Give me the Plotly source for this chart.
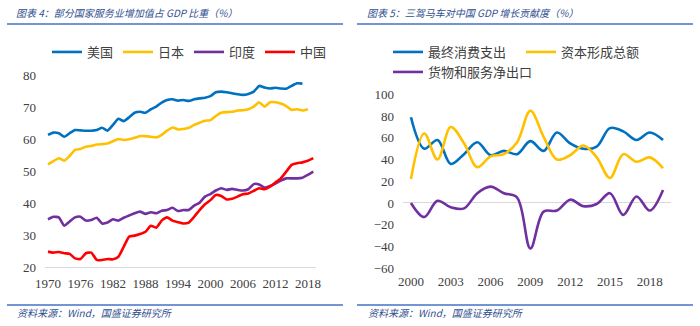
import plotly.graph_objects as go

W, H = 700, 326

# ---------- Left chart data: service-sector share of GDP (%) ----------
years_l = list(range(1970, 2020))
usa = [61.3, 62.0, 61.8, 60.7, 61.8, 62.8, 62.7, 62.6, 62.6, 62.8, 63.5, 62.6, 64.4, 66.3, 65.6,
       66.8, 68.2, 68.5, 68.2, 69.3, 70.1, 71.4, 72.2, 72.4, 72.0, 72.2, 71.9, 72.4, 72.7, 72.9,
       73.4, 74.6, 74.8, 74.6, 74.3, 74.0, 73.8, 74.1, 74.8, 76.6, 76.1, 75.8, 76.0, 75.8, 75.7,
       76.6, 77.4, 77.3]
japan = [52.1, 53.1, 54.0, 53.2, 54.7, 56.6, 56.9, 57.6, 57.8, 58.3, 58.4, 58.6, 59.3, 60.0, 59.7,
         59.9, 60.4, 60.9, 60.9, 60.7, 60.5, 61.3, 62.6, 63.6, 63.0, 63.1, 63.5, 64.4, 65.1, 65.7,
         65.9, 67.2, 68.2, 68.4, 68.5, 68.9, 69.0, 69.3, 70.1, 71.5, 70.1, 71.5, 71.5, 71.1, 70.3,
         69.1, 69.3, 68.9, 69.3]
india = [34.9, 35.7, 35.5, 32.9, 34.2, 35.5, 35.7, 34.5, 34.7, 35.4, 33.6, 33.9, 34.9, 34.5, 35.4,
         36.1, 36.8, 37.3, 36.6, 37.1, 36.8, 37.6, 37.8, 38.5, 37.5, 37.8, 37.8, 39.2, 40.1, 42.0,
         42.8, 43.9, 44.6, 44.1, 44.4, 44.1, 43.9, 44.3, 45.9, 45.8, 44.8, 45.3, 46.1, 47.0, 47.7,
         47.7, 47.7, 47.9, 48.8, 49.8]
china = [24.8, 24.5, 24.7, 24.3, 24.1, 22.7, 22.5, 24.3, 24.5, 22.2, 22.2, 22.5, 22.4, 23.2, 26.4,
         29.5, 29.8, 30.3, 31.0, 32.9, 32.3, 34.5, 35.5, 34.5, 34.0, 33.6, 33.9, 35.7, 37.8, 39.6,
         40.9, 42.5, 42.2, 41.1, 41.3, 42.0, 42.7, 43.0, 43.8, 44.6, 44.3, 45.1, 46.4, 47.7, 49.8,
         51.9, 52.4, 52.7, 53.2, 54.0]
names_l = ["美国", "日本", "印度", "中国"]
colors_l = ["#0070C0", "#FFC000", "#7030A0", "#FF0000"]
ticks_l = list(range(1970, 2019, 6))

# ---------- Right chart data: contribution to China's GDP growth (%) ----------
years_r = list(range(2000, 2020))
consumption = [79, 50, 58, 36, 45, 56, 44, 48, 45, 57, 48, 65, 55, 50, 52, 69, 66, 58, 65, 58]
capital = [22, 64, 40, 70, 55, 33, 43, 45, 56, 85, 61, 40, 44, 53, 42, 23, 45, 38, 42, 32]
net_exports = [0, -13, 2, -4, -5, 9, 15, 9, 5, -42, -8, -7, 3, -3, -1, 9, -11, 6, -7, 12]
names_r = ["最终消费支出", "资本形成总额", "货物和服务净出口"]
colors_r = ["#0070C0", "#FFC000", "#7030A0"]
legends_r = ["legend2", "legend2", "legend3"]
ticks_r = list(range(2000, 2019, 3))

SERIF = "Times New Roman, Liberation Serif, Noto Sans CJK SC, serif"
CJK = "Noto Sans CJK SC"
TXT = "#404040"
TITLE_C = "#2F4F8F"
RULE_C = "#4472C4"


def px(x):
    return x / W


def py(y):
    return 1 - y / H


fig = go.Figure()

left_series = [usa, japan, india, china]
for name, col, vals in zip(names_l, colors_l, left_series):
    fig.add_trace(go.Scatter(x=years_l[:len(vals)], y=vals, name=name, mode="lines",
                             line=dict(color=col, width=2.6, shape="spline", smoothing=0.5),
                             xaxis="x", yaxis="y", legend="legend"))

right_series = [consumption, capital, net_exports]
for name, col, vals, lg in zip(names_r, colors_r, right_series, legends_r):
    fig.add_trace(go.Scatter(x=years_r, y=vals, name=name, mode="lines",
                             line=dict(color=col, width=2.6, shape="spline", smoothing=1.0),
                             xaxis="x2", yaxis="y2", legend=lg))

tickfont = dict(family=SERIF, size=13, color=TXT)
legfont = dict(family=SERIF, size=13, color=TXT)

fig.update_layout(
    width=W, height=H, margin=dict(l=0, r=0, t=0, b=0, autoexpand=False),
    paper_bgcolor="white", plot_bgcolor="white",
    xaxis=dict(domain=[px(45), px(316)], range=[1969.45, 2019.5], tickvals=ticks_l,
               showgrid=False, zeroline=False, showline=True, linecolor="#D9D9D9", linewidth=1,
               ticks="", tickfont=tickfont, anchor="y", ticklabelstandoff=4, tickangle=0),
    yaxis=dict(domain=[py(267), py(75)], range=[20, 80], tickvals=list(range(20, 81, 10)),
               showgrid=False, zeroline=False, showline=False, ticks="", tickfont=tickfont,
               anchor="x", ticklabelstandoff=8),
    xaxis2=dict(domain=[px(403), px(671)], range=[1999.4, 2019.6], tickvals=ticks_r,
                showgrid=False, zeroline=False, showline=False, ticks="", tickfont=tickfont,
                anchor="y2", ticklabelstandoff=4, tickangle=0),
    yaxis2=dict(domain=[py(268), py(94.5)], range=[-60, 100], tickvals=list(range(-60, 101, 20)),
                showgrid=False, zeroline=True, zerolinecolor="#D9D9D9", zerolinewidth=1,
                showline=False, ticks="", tickfont=tickfont, anchor="x2", ticklabelstandoff=8),
    legend=dict(orientation="h", x=px(47), y=py(52), xanchor="left", yanchor="middle",
                font=legfont, bgcolor="rgba(0,0,0,0)",
                entrywidth=26, entrywidthmode="pixels", itemwidth=30),
    legend2=dict(orientation="h", x=px(388), y=py(52), xanchor="left", yanchor="middle",
                 font=legfont, bgcolor="rgba(0,0,0,0)",
                 entrywidth=88, entrywidthmode="pixels", itemwidth=30),
    legend3=dict(orientation="h", x=px(388), y=py(72), xanchor="left", yanchor="middle",
                 font=legfont, bgcolor="rgba(0,0,0,0)", itemwidth=30),
    showlegend=True,
)

# Titles, rules and source notes
titles = [("图表 4：部分国家服务业增加值占 GDP 比重（%）", 14),
          ("图表 5：三驾马车对中国 GDP 增长贡献度（%）", 365)]
for text, x0 in titles:
    fig.add_annotation(x=px(x0), y=py(13), xref="paper", yref="paper", text=f"<i>{text}</i>",
                       showarrow=False, xanchor="left", yanchor="middle",
                       font=dict(family=CJK, size=10, color=TITLE_C))
for x0 in (15, 366):
    fig.add_annotation(x=px(x0), y=py(312), xref="paper", yref="paper",
                       text="<i>资料来源：Wind，国盛证券研究所</i>",
                       showarrow=False, xanchor="left", yanchor="middle",
                       font=dict(family=CJK, size=10, color=TITLE_C))
for (a, b) in ((7, 343), (357, 693)):
    for yy in (24, 305):
        fig.add_shape(type="line", xref="paper", yref="paper", x0=px(a), x1=px(b),
                      y0=py(yy), y1=py(yy), line=dict(color=RULE_C, width=1.6))

fig.write_html("out.html")
